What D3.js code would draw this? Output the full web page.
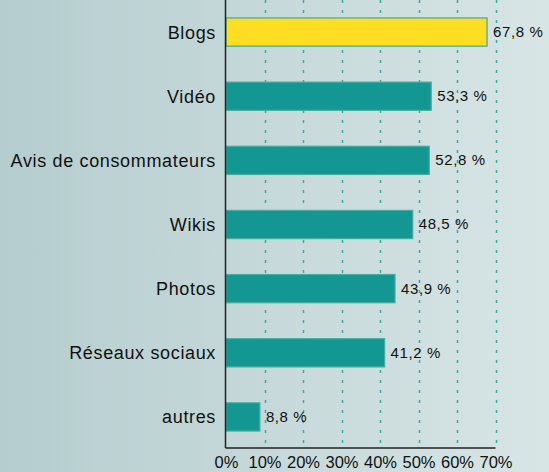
<!DOCTYPE html>
<html>
<head>
<meta charset="utf-8">
<script src="https://cdn.jsdelivr.net/npm/d3@7"></script>
<style>
  html, body { margin: 0; padding: 0; overflow: hidden; }
  svg { display: block; }
</style>
</head>
<body>
<svg id="chart" width="549" height="472"></svg>
<script>
const categories = ["Blogs", "Vidéo", "Avis de consommateurs", "Wikis", "Photos", "Réseaux sociaux", "autres"];
const values = [67.8, 53.3, 52.8, 48.5, 43.9, 41.2, 8.8];
const valueLabels = ["67,8 %", "53,3 %", "52,8 %", "48,5 %", "43,9 %", "41,2 %", "8,8 %"];
const highlighted = ["Blogs"];
const tickValues = [0, 10, 20, 30, 40, 50, 60, 70];

const W = 549, H = 472;
const svg = d3.select("#chart");

const defs = svg.append("defs");
const grad = defs.append("linearGradient").attr("id", "bg").attr("x1", "0").attr("x2", "1").attr("y1", "0").attr("y2", "0");
grad.append("stop").attr("offset", "0").attr("stop-color", "#b5cdcf");
grad.append("stop").attr("offset", "1").attr("stop-color", "#d8e5e5");
svg.append("rect").attr("width", W).attr("height", H).attr("fill", "url(#bg)");

const x = d3.scaleLinear().domain([0, 70]).range([226, 495.5]);
const y = d3.scaleBand().domain(categories).range([0, 449]).paddingInner(0.56).paddingOuter(0.28);
const axisY = 448;

// grid lines
svg.append("g").selectAll("line").data(tickValues.slice(1)).join("line")
  .attr("x1", d => Math.round(x(d)) + 0.5).attr("x2", d => Math.round(x(d)) + 0.5)
  .attr("y1", 0).attr("y2", axisY)
  .attr("stroke", "#3aa9a2").attr("stroke-width", 1.5)
  .attr("stroke-dasharray", "3,7");

// bars
const data = categories.map((c, i) => ({ c, v: values[i], l: valueLabels[i] }));
svg.append("g").selectAll("rect").data(data).join("rect")
  .attr("x", x(0))
  .attr("y", d => y(d.c))
  .attr("width", d => x(d.v) - x(0))
  .attr("height", y.bandwidth())
  .attr("fill", d => highlighted.includes(d.c) ? "#fedd22" : "#129793")
  .attr("stroke", d => highlighted.includes(d.c) ? "#3ca9a3" : "#48aba5")
  .attr("stroke-width", 1.2);

// value labels
svg.append("g").selectAll("text").data(data).join("text")
  .attr("x", d => x(d.v) + 6)
  .attr("y", d => y(d.c) + y.bandwidth() / 2)
  .attr("dy", "0.33em")
  .attr("font-family", "'Liberation Sans', Arial, sans-serif")
  .attr("font-size", 15)
  .attr("letter-spacing", "0.6px")
  .attr("fill", "#111")
  .text(d => d.l);

// category labels
svg.append("g").selectAll("text").data(data).join("text")
  .attr("x", 216)
  .attr("y", d => y(d.c) + y.bandwidth() / 2)
  .attr("dy", "0.36em")
  .attr("text-anchor", "end")
  .attr("font-family", "'Liberation Sans', Arial, sans-serif")
  .attr("font-size", 18)
  .attr("letter-spacing", "0.65px")
  .attr("fill", "#111")
  .text(d => d.c);

// x axis
const xAxis = d3.axisBottom(x).tickValues(tickValues).tickSize(0).tickPadding(0).tickFormat(d => d + "%");
const gx = svg.append("g").attr("transform", `translate(0,${axisY})`).call(xAxis);
gx.select(".domain").attr("stroke", "#222").attr("stroke-width", 1.5).attr("d", `M${x(0) - 0.5},0H${x(70)}`);
gx.selectAll(".tick text")
  .attr("y", 20)
  .attr("dy", null)
  .attr("font-family", "'Liberation Sans', Arial, sans-serif")
  .attr("font-size", 16.5)
  .attr("fill", "#111");

// y axis line
svg.append("line")
  .attr("x1", x(0) - 0.5).attr("x2", x(0) - 0.5)
  .attr("y1", 0).attr("y2", axisY)
  .attr("stroke", "#222").attr("stroke-width", 1.5);
</script>
</body>
</html>
